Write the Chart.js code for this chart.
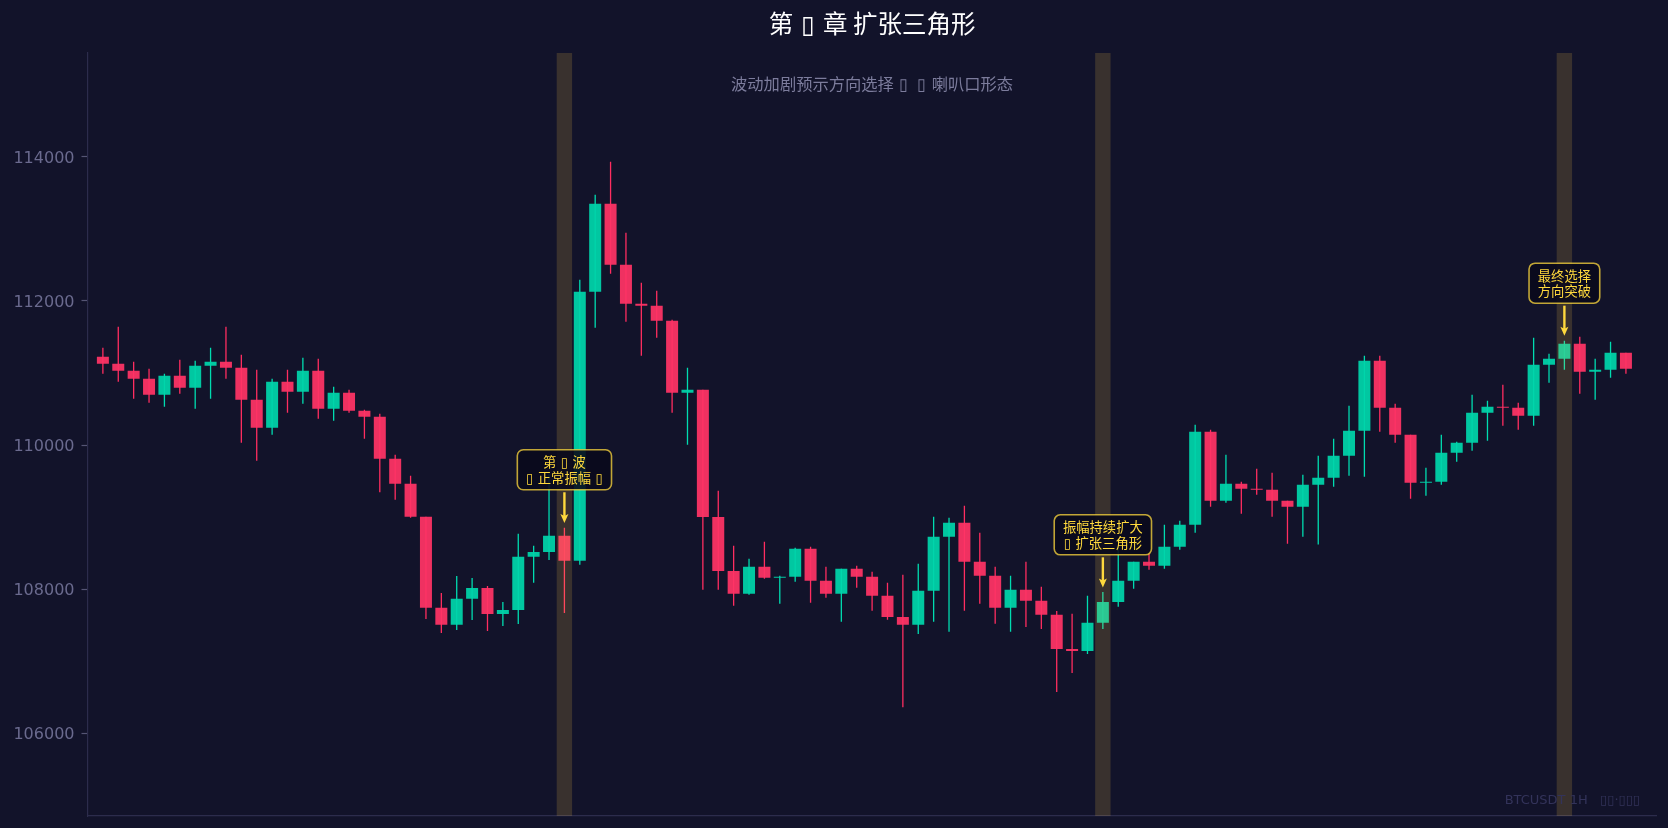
<!DOCTYPE html>
<html>
<head>
<meta charset="utf-8">
<title>第 ▯ 章 扩张三角形</title>
<script src="https://cdn.jsdelivr.net/npm/chart.js@4"></script>
<style>
html, body { margin: 0; padding: 0; background: #12132a; }
canvas { display: block; }
</style>
</head>
<body>
<canvas id="myChart" width="1668" height="828"></canvas>
<script>
'use strict';

const opens = [111226,111129,111032,110921,110698,110962,110796,111101,111157,111073,
  110629,110240,110879,110740,111032,110504,110726,110476,110393,109810,
  109462,109004,107740,107504,107865,108017,107656,107712,108448,108517,
  108740,108393,112129,113351,112504,111962,111934,111726,110726,110767,
  109003,108253,107935,108310,108157,108171,108560,108115,107935,108282,
  108171,107907,107615,107504,107977,108727,108921,108379,108185,107740,
  107990,107838,107643,107170,107143,107532,107823,108115,108379,108323,
  108587,108893,110185,109226,109462,109393,109379,109226,109143,109448,
  109545,109851,110198,111170,110518,110142,109476,109490,109892,110031,
  110448,110531,110518,110406,111115,111198,111406,111017,111045,111281];
const highs = [111351,111643,111157,111060,110990,111185,111171,111351,111643,111254,
  111046,110921,111046,111212,111198,110810,110768,110490,110434,109865,
  109573,109004,107948,108184,108156,108045,107823,108768,108601,109600,
  108851,112295,113476,113934,112948,112254,112142,111740,111073,110767,
  109365,108601,108421,108657,108185,108574,108588,108310,108282,108324,
  108240,108088,108199,108352,109004,108990,109157,108782,108310,108185,
  108379,108032,107698,107657,107907,107962,108600,108379,108499,108893,
  108948,110282,110212,109865,109490,109671,109615,109226,109587,109851,
  110087,110545,111240,111240,110573,110142,109684,110142,110045,110698,
  110615,110837,110587,111490,111267,111448,111504,111198,111434,111281];
const lows = [110990,110879,110643,110587,110532,110712,110504,110643,110921,110032,
  109782,110143,110448,110574,110365,110337,110448,110087,109344,109240,
  108990,107587,107392,107434,107573,107420,107490,107517,108087,108406,
  107670,108337,111629,112379,111712,111240,111490,110448,110003,107990,
  107990,107768,107921,108143,107796,108102,107810,107879,107546,108018,
  107699,107574,106360,107379,107546,107407,107699,107796,107518,107407,
  107476,107448,106573,106837,107101,107448,107754,108004,108268,108282,
  108546,108782,109143,109198,109046,109310,109004,108629,108726,108620,
  109420,109573,109559,110184,110031,109254,109295,109448,109768,109920,
  110059,110268,110212,110268,110865,111045,110712,110628,110934,110990];
const closes = [111129,111032,110921,110698,110962,110796,111101,111157,111073,110629,
  110240,110879,110740,111032,110504,110726,110476,110393,109810,109462,
  109004,107740,107504,107865,108017,107656,107712,108448,108517,108740,
  108393,112129,113351,112504,111962,111934,111726,110726,110767,109003,
  108253,107935,108310,108157,108171,108560,108115,107935,108282,108171,
  107907,107615,107504,107977,108727,108921,108379,108185,107740,107990,
  107838,107643,107170,107143,107532,107823,108115,108379,108323,108587,
  108893,110185,109226,109462,109393,109379,109226,109143,109448,109545,
  109851,110198,111170,110518,110142,109476,109490,109892,110031,110448,
  110531,110518,110406,111115,111198,111406,111017,111045,111281,111059];

const yTickValues = [106000, 108000, 110000, 112000, 114000];
const yMin = 104851;
const yMax = 115442;

const bandIndexes = [30, 65, 95];
const noteIndexes = [30, 65, 95];
const noteLines = [['第\u2004▯\u2004波', '▯\u2004正常振幅\u2004▯'], ['振幅持续扩大', '▯\u2004扩张三角形'], ['最终选择', '方向突破']];
const noteBoxValues = [109657, 108754, 112247];
const noteTipValues = [108917, 108022, 111518];

const titleText = '第\u2004▯\u2004章 扩张三角形';
const subtitleText = '波动加剧预示方向选择\u2004▯\u2004 ▯\u2004喇叭口形态';
const watermarkText = 'BTCUSDT 1H   ▯▯·▯▯▯';

const CJK = '"Noto Sans CJK SC", "DejaVu Sans", sans-serif';
const LATIN = '"DejaVu Sans", "Noto Sans CJK SC", sans-serif';
const GREEN = '#00d4aa';
const RED = '#ff3366';
const GOLD = '#ffd93d';

let indexes = opens.map((o, i) => i);
let isUp = indexes.map(i => closes[i] >= opens[i]);

// subtitle, notes and watermark go over the marks
const overlayPlugin = {
  id: 'overlay',
  afterDatasetsDraw(chart) {
    let ctx = chart.ctx;
    let x = chart.scales.x;
    let y = chart.scales.y;
    let area = chart.chartArea;
    ctx.save();

    ctx.textAlign = 'center';
    ctx.textBaseline = 'middle';
    ctx.font = '16.3px ' + CJK;
    ctx.fillStyle = '#7c7c9c';
    ctx.fillText(subtitleText, (area.left + area.right) / 2, 84);

    ctx.textAlign = 'right';
    ctx.font = '13px ' + LATIN;
    ctx.fillStyle = '#33335a';
    ctx.fillText(watermarkText, 1640, 801);

    for (let i = 0; i < noteIndexes.length; i++) {
      let cx = x.getPixelForValue(noteIndexes[i]);
      let cy = y.getPixelForValue(noteBoxValues[i]);
      let tip = y.getPixelForValue(noteTipValues[i]);
      ctx.font = '13.3px ' + CJK;
      let w = Math.max(...noteLines[i].map(t => ctx.measureText(t).width)) + 17.5;
      let h = 40;

      ctx.beginPath();
      ctx.roundRect(cx - w / 2, cy - h / 2, w, h, 6);
      ctx.fillStyle = 'rgba(10, 10, 28, 0.9)';
      ctx.fill();
      ctx.lineWidth = 1.6;
      ctx.strokeStyle = 'rgba(255, 217, 61, 0.75)';
      ctx.stroke();

      ctx.fillStyle = GOLD;
      ctx.textAlign = 'center';
      ctx.fillText(noteLines[i][0], cx, cy - 7.6);
      ctx.fillText(noteLines[i][1], cx, cy + 8);

      ctx.strokeStyle = GOLD;
      ctx.lineWidth = 2.4;
      ctx.beginPath();
      ctx.moveTo(cx, cy + h / 2 + 2.5);
      ctx.lineTo(cx, tip - 6);
      ctx.stroke();
      ctx.fillStyle = GOLD;
      ctx.beginPath();
      ctx.moveTo(cx, tip);
      ctx.lineTo(cx - 4, tip - 9);
      ctx.lineTo(cx, tip - 7);
      ctx.lineTo(cx + 4, tip - 9);
      ctx.closePath();
      ctx.fill();
    }
    ctx.restore();
  }
};

new Chart(document.getElementById('myChart'), {
  type: 'bar',
  data: {
    datasets: [
      {
        label: 'range',
        data: indexes.map(i => ({ x: i, y: [lows[i], highs[i]] })),
        backgroundColor: isUp.map(up => (up ? '#00dcb0' : '#ff2d60')),
        barThickness: 1.3,
        grouped: false,
        inflateAmount: 0,
        order: 3
      },
      {
        label: 'body',
        data: indexes.map(i => ({ x: i, y: [opens[i], closes[i]] })),
        backgroundColor: isUp.map(up => (up ? GREEN : RED) + 'ee'),
        barPercentage: 0.78,
        categoryPercentage: 1,
        grouped: false,
        inflateAmount: 0,
        order: 2
      },
      {
        label: 'band',
        data: bandIndexes.map(i => ({ x: i, y: [yMin, yMax] })),
        backgroundColor: 'rgba(255, 200, 70, 0.17)',
        barPercentage: 1,
        categoryPercentage: 1,
        grouped: false,
        inflateAmount: 0,
        order: 1
      }
    ]
  },
  options: {
    responsive: false,
    animation: false,
    layout: { autoPadding: false, padding: { right: 11.3 } },
    plugins: {
      legend: { display: false },
      tooltip: { enabled: false },
      title: {
        display: true,
        text: titleText,
        fullSize: false,
        color: '#ffffff',
        font: { family: CJK, size: 24.5, weight: 'normal', lineHeight: 1.2 },
        padding: { top: 9, bottom: 14.6 }
      }
    },
    scales: {
      x: {
        type: 'linear',
        min: -1,
        max: 101,
        offset: false,
        ticks: { display: false },
        grid: { display: false, offset: false },
        border: { color: '#2c2c4c', width: 1.2 },
        afterFit(scale) { scale.height = 12; }
      },
      y: {
        min: yMin,
        max: yMax,
        afterBuildTicks(scale) { scale.ticks = yTickValues.map(v => ({ value: v })); },
        ticks: {
          color: '#6a6a8e',
          font: { family: LATIN, size: 16 },
          padding: 7,
          labelOffset: 1.5,
          callback: v => String(v)
        },
        grid: { drawOnChartArea: false, tickLength: 6, tickColor: '#555574', tickWidth: 1.2 },
        border: { color: '#2c2c4c', width: 1.2 },
        afterFit(scale) {
          scale.width = 87.5;
          scale.paddingTop = 0;
          scale.paddingBottom = 0;
        }
      }
    }
  },
  plugins: [overlayPlugin]
});
</script>
</body>
</html>
